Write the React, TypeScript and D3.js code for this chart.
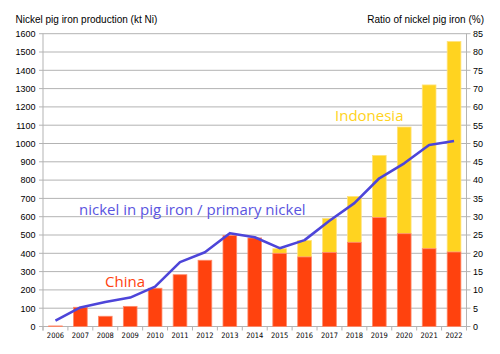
import React from "react";
import * as d3 from "d3";

const years = ["2006","2007","2008","2009","2010","2011","2012","2013","2014","2015","2016","2017","2018","2019","2020","2021","2022"];
const china = [3, 105, 56, 110, 209, 283, 362, 497, 484, 400, 380, 405, 460, 595, 507, 425, 407];
const indonesia = [0, 0, 0, 0, 0, 0, 0, 0, 0, 25, 90, 185, 250, 340, 583, 895, 1150];
const ratio = [1.6, 5.2, 6.7, 7.9, 10.9, 17.6, 20.3, 25.5, 24.4, 21.4, 23.6, 28.9, 33.7, 40.5, 44.6, 49.6, 50.7];
const leftTicks = [0,100,200,300,400,500,600,700,800,900,1000,1100,1200,1300,1400,1500,1600];
const rightTickLabels = ["0","5","10","15","20","25","30","35","40","45","50","55","60","70","75","80","85"];

const W = 500, H = 354;
const X0 = 43, X1 = 466.5, Y0 = 326.5, Y1 = 33.7;

export default function App() {
  const x = d3.scaleBand<string>().domain(years).range([X0, X1]).paddingInner(0).paddingOuter(0);
  const y = d3.scaleLinear().domain([0, 1600]).range([Y0, Y1]);
  const yr = d3.scaleLinear().domain([0, 80]).range([Y0, Y1]);
  const bw = x.bandwidth() * 0.55;
  const line = d3.line<number>()
    .x((_, i) => (x(years[i]) as number) + x.bandwidth() / 2)
    .y((d) => yr(d));
  const font = "'Liberation Sans', Arial, sans-serif";
  return (
    <svg width={W} height={H} style={{ position: "absolute", left: 0, top: 0, background: "#fff" }}>
      <rect x={0} y={0} width={W} height={H} fill="#fff" />
      {leftTicks.map((t) => (
        <g key={t}>
          <line x1={X0 - 4} x2={X1 + 4} y1={y(t)} y2={y(t)} stroke="#b3b3b3" strokeWidth={1} />
          <text x={35.5} y={y(t) + 3.3} textAnchor="end" fontFamily={font} fontSize={9} fill="#000">{t}</text>
        </g>
      ))}
      {rightTickLabels.map((l, i) => (
        <text key={l} x={473} y={yr(i * 5) + 3.3} fontFamily={font} fontSize={9} fill="#000">{l}</text>
      ))}
      <line x1={X0} x2={X0} y1={Y1} y2={Y0 + 4} stroke="#b3b3b3" />
      <line x1={X1} x2={X1} y1={Y1} y2={Y0 + 4} stroke="#b3b3b3" />
      {years.map((yy) => (
        <line key={"t" + yy} x1={x(yy) as number} x2={x(yy) as number} y1={Y0} y2={Y0 + 4} stroke="#b3b3b3" />
      ))}
      {years.map((yy) => (
        <text key={"l" + yy} x={(x(yy) as number) + x.bandwidth() / 2} y={337.7} textAnchor="middle"
          fontFamily="'DejaVu Sans Condensed', 'DejaVu Sans', sans-serif" fontStretch="condensed" fontSize={7.5} fill="#000">{yy}</text>
      ))}
      {years.map((yy, i) => {
        const cx = (x(yy) as number) + x.bandwidth() / 2;
        return (
          <g key={"b" + yy}>
            {indonesia[i] > 0 && (
              <rect x={cx - bw / 2} y={y(china[i] + indonesia[i])} width={bw}
                height={y(china[i]) - y(china[i] + indonesia[i])} fill="#ffd320" stroke="#ffe27a" strokeWidth={0.8} />
            )}
            <rect x={cx - bw / 2} y={y(china[i])} width={bw} height={Y0 - y(china[i])}
              fill="#ff420e" stroke="#ff8a6a" strokeWidth={0.8} />
          </g>
        );
      })}
      <path d={line(ratio) as string} fill="none" stroke="#4d45d9" strokeWidth={2.6} strokeLinejoin="round" />
      <text x={79} y={215} fontFamily="'Open Sans', 'Noto Sans', sans-serif" fontSize={15} fill="#5a55e0">nickel in pig iron / primary nickel</text>
      <text x={105} y={287} fontFamily="'Open Sans', 'Noto Sans', sans-serif" fontSize={15} fill="#ff420e">China</text>
      <text x={335} y={121} fontFamily="'Open Sans', 'Noto Sans', sans-serif" fontSize={15} fill="#ffd320">Indonesia</text>
      <text x={15.5} y={22.5} fontFamily={font} fontSize={10} fill="#000">Nickel pig iron production (kt Ni)</text>
      <text x={484} y={22.5} textAnchor="end" fontFamily={font} fontSize={10} fill="#000">Ratio of nickel pig iron (%)</text>
    </svg>
  );
}
